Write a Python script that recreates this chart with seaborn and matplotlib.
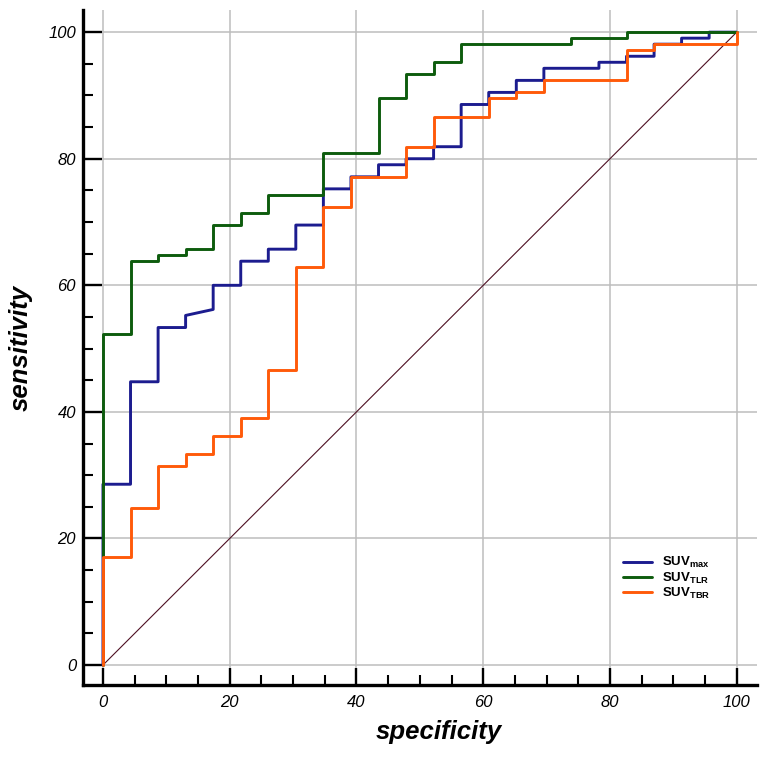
import matplotlib
matplotlib.use("Agg")
import matplotlib.pyplot as plt
from matplotlib.ticker import MultipleLocator
import seaborn as sns
import pandas as pd

# -----------------------
# ROC vertices (specificity axis, sensitivity)
# -----------------------

max_spec = [0, 0, 4.35, 4.35, 8.70, 8.70, 13.04, 13.04, 17.39, 17.39, 21.74, 21.74,
            26.09, 26.09, 30.43, 30.43, 34.78, 34.78, 39.13, 39.13, 43.48, 43.48,
            47.83, 47.83, 52.17, 52.17, 56.52, 56.52, 60.87, 60.87, 65.22, 65.22,
            69.57, 69.57, 78.26, 78.26, 82.61, 82.61, 86.96, 86.96, 91.30, 91.30,
            95.65, 95.65, 100]
max_sens = [0, 28.57, 28.57, 44.76, 44.76, 53.33, 53.33, 55.24, 56.19, 60.00, 60.00, 63.81,
            63.81, 65.71, 65.71, 69.52, 69.52, 75.24, 75.24, 77.14, 77.14, 79.05,
            79.05, 80.00, 80.00, 81.90, 81.90, 88.57, 88.57, 90.48, 90.48, 92.38,
            92.38, 94.29, 94.29, 95.24, 95.24, 96.19, 96.19, 98.10, 98.10, 99.05,
            99.05, 100, 100]

tlr_spec = [0, 0, 4.35, 4.35, 8.70, 8.70, 13.04, 13.04, 17.39, 17.39, 21.74, 21.74,
            26.09, 26.09, 34.78, 34.78, 43.48, 43.48, 47.83, 47.83, 52.17, 52.17,
            56.52, 56.52, 73.91, 73.91, 82.61, 82.61, 100]
tlr_sens = [0, 52.38, 52.38, 63.81, 63.81, 64.76, 64.76, 65.71, 65.71, 69.52, 69.52, 71.43,
            71.43, 74.29, 74.29, 80.95, 80.95, 89.52, 89.52, 93.33, 93.33, 95.24,
            95.24, 98.10, 98.10, 99.05, 99.05, 100, 100]

tbr_spec = [0, 0, 4.35, 4.35, 8.70, 8.70, 13.04, 13.04, 17.39, 17.39, 21.74, 21.74,
            26.09, 26.09, 30.43, 30.43, 34.78, 34.78, 39.13, 39.13, 47.83, 47.83,
            52.17, 52.17, 60.87, 60.87, 65.22, 65.22, 69.57, 69.57, 82.61, 82.61,
            86.96, 86.96, 100, 100]
tbr_sens = [0, 17.14, 17.14, 24.76, 24.76, 31.43, 31.43, 33.33, 33.33, 36.19, 36.19, 39.05,
            39.05, 46.67, 46.67, 62.86, 62.86, 72.38, 72.38, 77.14, 77.14, 81.90,
            81.90, 86.67, 86.67, 89.52, 89.52, 90.48, 90.48, 92.38, 92.38, 97.14,
            97.14, 98.10, 98.10, 100]

diag = [0, 100]

labels = [r"SUV$_{\mathrm{max}}$", r"SUV$_{\mathrm{TLR}}$", r"SUV$_{\mathrm{TBR}}$"]
colors = ["#1c1c8f", "#0d5c0d", "#ff5a0a"]

# -----------------------
# Style
# -----------------------

sns.set_theme(style="white")
plt.rcParams["font.family"] = ["Liberation Sans", "DejaVu Sans"]
plt.rcParams["mathtext.fontset"] = "custom"
plt.rcParams["mathtext.rm"] = "Liberation Sans:bold"
plt.rcParams["mathtext.it"] = "Liberation Sans:bold"
plt.rcParams["mathtext.bf"] = "Liberation Sans:bold"
plt.rcParams["text.color"] = "black"
plt.rcParams["axes.labelcolor"] = "black"
plt.rcParams["xtick.color"] = "black"
plt.rcParams["ytick.color"] = "black"

fig = plt.figure(figsize=(7.65, 7.59), dpi=100)
ax = fig.add_axes([83 / 765, 1 - 685 / 759, 674 / 765, 675 / 759])

# -----------------------
# Curves
# -----------------------

ax.plot(diag, diag, color="#4d0f22", lw=0.8, zorder=2)

curves = [
    pd.DataFrame({"spec": max_spec, "sens": max_sens}),
    pd.DataFrame({"spec": tlr_spec, "sens": tlr_sens}),
    pd.DataFrame({"spec": tbr_spec, "sens": tbr_sens}),
]

for df, lab, col in zip(curves, labels, colors):
    sns.lineplot(
        data=df, x="spec", y="sens",
        sort=False, estimator=None,
        color=col, lw=2.1, label=lab, ax=ax, zorder=3
    )

# -----------------------
# Axes
# -----------------------

ax.set_xlim(-3.15, 103.2)
ax.set_ylim(-3.15, 103.5)

ax.xaxis.set_major_locator(MultipleLocator(20))
ax.xaxis.set_minor_locator(MultipleLocator(5))
ax.yaxis.set_major_locator(MultipleLocator(20))
ax.yaxis.set_minor_locator(MultipleLocator(5))

ax.grid(True, which="major", color="#bdbdbd", lw=1.1)
ax.set_axisbelow(True)

for s in ["top", "right"]:
    ax.spines[s].set_visible(False)
for s in ["left", "bottom"]:
    ax.spines[s].set_linewidth(2.4)
    ax.spines[s].set_color("black")

ax.tick_params(which="major", direction="in", width=1.7, labelsize=12)
ax.tick_params(which="minor", direction="in", length=7, width=1.5)
ax.tick_params(axis="x", which="major", length=12, pad=7)
ax.tick_params(axis="y", which="major", length=13.5, pad=5)
ax.tick_params(left=True, bottom=True, which="both")

for t in ax.get_xticklabels() + ax.get_yticklabels():
    t.set_fontstyle("italic")

ax.set_xlabel("specificity", fontsize=18.5, fontweight="bold", fontstyle="italic")
ax.set_ylabel("sensitivity", fontsize=18.5, fontweight="bold", fontstyle="italic")
ax.xaxis.set_label_coords(0.528, -0.052)
ax.yaxis.set_label_coords(-0.075, 0.5)

leg = ax.legend(
    loc="upper left", bbox_to_anchor=(0.801, 0.192),
    frameon=False, handlelength=2.2, handletextpad=0.8,
    labelspacing=0.0, borderpad=0, borderaxespad=0,
    prop={"weight": "bold", "size": 9.5}
)
for line in leg.get_lines():
    line.set_linewidth(2.1)

plt.savefig("out.png", dpi=100)
plt.close()
